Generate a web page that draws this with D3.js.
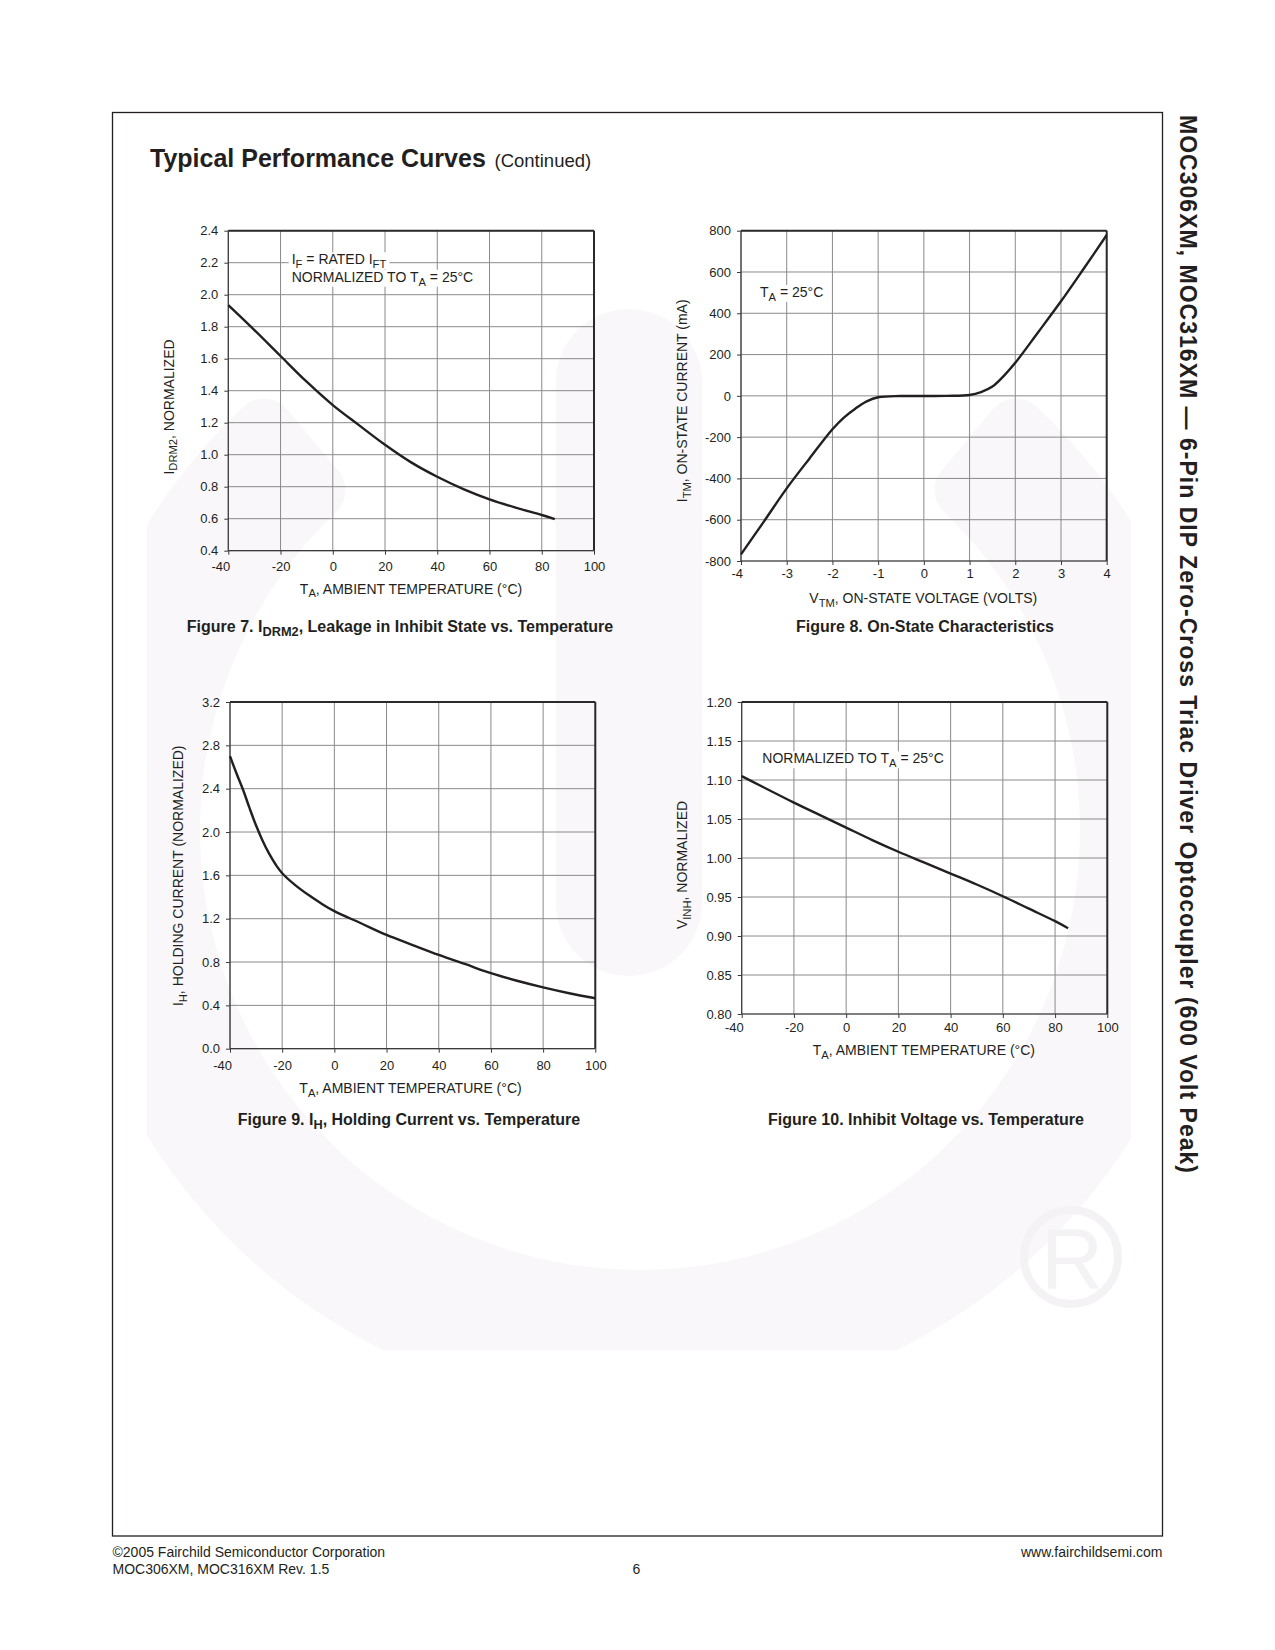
<!DOCTYPE html>
<html><head><meta charset="utf-8">
<script src="https://cdn.jsdelivr.net/npm/d3@7"></script>
<style>
html,body{margin:0;padding:0;background:#fff;}
svg{display:block;font-family:"Liberation Sans",Arial,Helvetica,sans-serif;}
</style></head><body>
<svg id="page" width="1275" height="1650"></svg>
<script>
// ---------------- DATA ----------------
const tempTicks = [-40, -20, 0, 20, 40, 60, 80, 100];

// Figure 7: IDRM2 normalized vs temperature
const fig7Temp = [-40, -30, -20, -10, 0, 10, 20, 30, 40, 50, 60, 70, 80, 85];
const fig7Idrm = [1.935, 1.779, 1.617, 1.456, 1.31, 1.185, 1.062, 0.952, 0.862, 0.785, 0.721, 0.669, 0.623, 0.598];
const fig7YTicks = [0.4, 0.6, 0.8, 1.0, 1.2, 1.4, 1.6, 1.8, 2.0, 2.2, 2.4];

// Figure 8: on-state current vs voltage
const fig8Volt = [-4, -3.5, -3, -2.5, -2, -1.75, -1.5, -1.25, -1, -0.5, 0, 0.5, 1, 1.25, 1.5, 1.75, 2, 2.5, 3, 3.5, 4];
const fig8Current = [-768, -609, -448, -303, -162, -105, -62, -27, -7, -1, -1, 0, 4, 18, 45, 97, 160, 308, 458, 617, 779];
const fig8XTicks = [-4, -3, -2, -1, 0, 1, 2, 3, 4];
const fig8YTicks = [-800, -600, -400, -200, 0, 200, 400, 600, 800];

// Figure 9: holding current vs temperature
const fig9Temp = [-40, -37.5, -35, -32.5, -30, -27.5, -25, -22.5, -20, -15, -10, -5, 0, 10, 20, 30, 40, 50, 60, 70, 80, 90, 100];
const fig9Ih = [2.70, 2.54, 2.39, 2.22, 2.06, 1.92, 1.80, 1.70, 1.62, 1.51, 1.42, 1.34, 1.27, 1.16, 1.05, 0.957, 0.866, 0.782, 0.697, 0.627, 0.566, 0.512, 0.466];
const fig9YTicks = [0.0, 0.4, 0.8, 1.2, 1.6, 2.0, 2.4, 2.8, 3.2];

// Figure 10: inhibit voltage vs temperature
const fig10Temp = [-40, -20, -10, 0, 10, 20, 30, 40, 50, 60, 70, 80, 85];
const fig10Vinh = [1.105, 1.071, 1.055, 1.039, 1.023, 1.008, 0.994, 0.980, 0.966, 0.951, 0.935, 0.919, 0.910];
const fig10YTicks = [0.80, 0.85, 0.90, 0.95, 1.00, 1.05, 1.10, 1.15, 1.20];

// ---------------- LAYOUT ----------------
const TXT = "#231f20";
const svg = d3.select("#page");

// faint watermark (logo) behind page
(function watermark() {
  const defs = svg.append("defs");
  defs.append("clipPath").attr("id", "wmclip").append("rect")
    .attr("x", 147).attr("y", 300).attr("width", 984).attr("height", 1050);
  const wm = svg.append("g").attr("clip-path", "url(#wmclip)");
  const gray = "#f9f7fa";
  const ring = d3.arc().innerRadius(440).outerRadius(580)
    .startAngle(40 * Math.PI / 180).endAngle(320 * Math.PI / 180).cornerRadius(30);
  wm.append("path").attr("d", ring()).attr("transform", "translate(640,830)").attr("fill", gray);
  wm.append("rect").attr("x", 556).attr("y", 309).attr("width", 146).attr("height", 667)
    .attr("rx", 73).attr("fill", gray);
  svg.append("circle").attr("cx", 1071).attr("cy", 1257).attr("r", 47)
    .attr("fill", "none").attr("stroke", "#f4f2f5").attr("stroke-width", 8);
  svg.append("text").attr("x", 1072).attr("y", 1288).attr("text-anchor", "middle")
    .attr("font-size", 86).attr("fill", "#f4f2f5").text("R");
})();

// page frame
svg.append("rect").attr("x", 112.5).attr("y", 112.5).attr("width", 1050).attr("height", 1423.5)
  .attr("fill", "none").attr("stroke", TXT).attr("stroke-width", 1.3);

function rich(textSel, parts, fs) {
  let prevSub = false;
  parts.forEach(p => {
    const t = textSel.append("tspan").text(p.t);
    if (p.sub) { t.attr("font-size", fs * 0.8).attr("dy", fs * 0.28); }
    else if (prevSub) { t.attr("dy", -fs * 0.28); }
    prevSub = !!p.sub;
  });
  return textSel;
}

const charts = [
  { box: [228.3, 230.7, 594, 550.7], xDomain: [-40, 100], yDomain: [0.4, 2.4],
    xTicks: tempTicks, yTicks: fig7YTicks, yFmt: d => d.toFixed(1), xs: fig7Temp, ys: fig7Idrm,
    xLabBase: 20,
    yTitle: [{t: "I"}, {t: "DRM2", sub: true}, {t: ", NORMALIZED"}], yTitlePos: [173.5, 407],
    xTitle: [{t: "T"}, {t: "A", sub: true}, {t: ", AMBIENT TEMPERATURE (°C)"}], xTitlePos: [411, 593.5],
    caption: [{t: "Figure 7. I"}, {t: "DRM2", sub: true}, {t: ", Leakage in Inhibit State vs. Temperature"}], capPos: [400, 632],
    notes: [
      { x: 291.7, y: 264.3, parts: [{t: "I"}, {t: "F", sub: true}, {t: " = RATED I"}, {t: "FT", sub: true}] },
      { x: 291.7, y: 281.7, parts: [{t: "NORMALIZED TO T"}, {t: "A", sub: true}, {t: " = 25°C"}] }
    ] },
  { box: [741, 230.7, 1106.7, 561], xDomain: [-4, 4], yDomain: [-800, 800],
    xTicks: fig8XTicks, yTicks: fig8YTicks, yFmt: d => String(d), xs: fig8Volt, ys: fig8Current,
    xLabBase: 17,
    yTitle: [{t: "I"}, {t: "TM", sub: true}, {t: ", ON-STATE CURRENT (mA)"}], yTitlePos: [687.3, 400.8],
    xTitle: [{t: "V"}, {t: "TM", sub: true}, {t: ", ON-STATE VOLTAGE (VOLTS)"}], xTitlePos: [923.3, 603.3],
    caption: [{t: "Figure 8. On-State Characteristics"}], capPos: [925, 632],
    notes: [ { x: 760, y: 297, parts: [{t: "T"}, {t: "A", sub: true}, {t: " = 25°C"}] } ] },
  { box: [230, 702, 595.3, 1048.7], xDomain: [-40, 100], yDomain: [0, 3.2],
    xTicks: tempTicks, yTicks: fig9YTicks, yFmt: d => d.toFixed(1), xs: fig9Temp, ys: fig9Ih,
    xLabBase: 21,
    yTitle: [{t: "I"}, {t: "H", sub: true}, {t: ",  HOLDING CURRENT (NORMALIZED)"}], yTitlePos: [182.7, 875.8],
    xTitle: [{t: "T"}, {t: "A", sub: true}, {t: ", AMBIENT TEMPERATURE (°C)"}], xTitlePos: [410.5, 1092.7],
    caption: [{t: "Figure 9. I"}, {t: "H", sub: true}, {t: ", Holding Current vs. Temperature"}], capPos: [409, 1125],
    notes: [] },
  { box: [741.7, 702, 1107.3, 1014], xDomain: [-40, 100], yDomain: [0.8, 1.2],
    xTicks: tempTicks, yTicks: fig10YTicks, yFmt: d => d.toFixed(2), xs: fig10Temp, ys: fig10Vinh,
    xLabBase: 18,
    yTitle: [{t: "V"}, {t: "INH", sub: true}, {t: ", NORMALIZED"}], yTitlePos: [686.7, 865],
    xTitle: [{t: "T"}, {t: "A", sub: true}, {t: ", AMBIENT TEMPERATURE (°C)"}], xTitlePos: [923.8, 1055],
    caption: [{t: "Figure 10. Inhibit Voltage vs. Temperature"}], capPos: [926, 1125],
    notes: [ { x: 762.3, y: 763.3, parts: [{t: "NORMALIZED TO T"}, {t: "A", sub: true}, {t: " = 25°C"}] } ] }
];

charts.forEach(cfg => {
  const [x0, y0, x1, y1] = cfg.box;
  const x = d3.scaleLinear().domain(cfg.xDomain).range([x0, x1]);
  const y = d3.scaleLinear().domain(cfg.yDomain).range([y1, y0]);
  const g = svg.append("g");

  // grid
  g.append("g").selectAll("line").data(cfg.xTicks).join("line")
    .attr("x1", d => x(d)).attr("x2", d => x(d)).attr("y1", y0).attr("y2", y1)
    .attr("stroke", "#8a8a8a").attr("stroke-width", 1);
  g.append("g").selectAll("line").data(cfg.yTicks).join("line")
    .attr("y1", d => y(d)).attr("y2", d => y(d)).attr("x1", x0).attr("x2", x1)
    .attr("stroke", "#8a8a8a").attr("stroke-width", 1);

  // annotations with white knock-out
  cfg.notes.forEach(n => {
    const bg = g.append("rect").attr("fill", "#fff");
    const t = g.append("text").attr("x", n.x).attr("y", n.y).attr("font-size", 14).attr("fill", TXT);
    rich(t, n.parts, 14);
    const bb = t.node().getBBox();
    bg.attr("x", bb.x - 3).attr("y", bb.y + 1).attr("width", bb.width + 6).attr("height", bb.height - 2);
  });

  // frame
  g.append("line").attr("x1", x0).attr("x2", x1).attr("y1", y0).attr("y2", y0).attr("stroke", "#2a2a2a").attr("stroke-width", 2);
  g.append("line").attr("x1", x1).attr("x2", x1).attr("y1", y0).attr("y2", y1).attr("stroke", "#2a2a2a").attr("stroke-width", 2);
  g.append("line").attr("x1", x0).attr("x2", x0).attr("y1", y0).attr("y2", y1).attr("stroke", "#3a3a3a").attr("stroke-width", 1.2);
  g.append("line").attr("x1", x0).attr("x2", x1).attr("y1", y1).attr("y2", y1).attr("stroke", "#3a3a3a").attr("stroke-width", 1.2);

  // axes
  const padX = cfg.xLabBase - 4 - 0.71 * 13;
  const xa = g.append("g").attr("transform", `translate(0,${y1})`)
    .call(d3.axisBottom(x).tickValues(cfg.xTicks).tickFormat(d => String(d)).tickSize(4).tickPadding(padX));
  const ya = g.append("g").attr("transform", `translate(${x0},0)`)
    .call(d3.axisLeft(y).tickValues(cfg.yTicks).tickFormat(cfg.yFmt).tickSize(4).tickPadding(6));
  [xa, ya].forEach(a => {
    a.select(".domain").remove();
    a.selectAll(".tick line").attr("stroke", "#3a3a3a").attr("stroke-width", 1);
    a.selectAll("text").attr("font-size", 13).attr("fill", TXT)
      .attr("font-family", '"Liberation Sans",Arial,Helvetica,sans-serif');
  });
  xa.selectAll(".tick").filter((d, i) => i === 0).select("text")
    .attr("text-anchor", "end").attr("x", 1.5);

  // curve
  const pts = cfg.xs.map((v, i) => [v, cfg.ys[i]]);
  g.append("path").datum(pts)
    .attr("d", d3.line().x(d => x(d[0])).y(d => y(d[1])).curve(d3.curveCatmullRom.alpha(0.5)))
    .attr("fill", "none").attr("stroke", "#231f20").attr("stroke-width", 2.4).attr("stroke-linecap", "butt");

  // axis titles
  const yt = g.append("text").attr("transform", `translate(${cfg.yTitlePos[0]},${cfg.yTitlePos[1]}) rotate(-90)`)
    .attr("text-anchor", "middle").attr("font-size", 14).attr("fill", TXT);
  rich(yt, cfg.yTitle, 14);
  const xt = g.append("text").attr("x", cfg.xTitlePos[0]).attr("y", cfg.xTitlePos[1])
    .attr("text-anchor", "middle").attr("font-size", 14).attr("fill", TXT);
  rich(xt, cfg.xTitle, 14);
  const cap = g.append("text").attr("x", cfg.capPos[0]).attr("y", cfg.capPos[1])
    .attr("text-anchor", "middle").attr("font-size", 16).attr("font-weight", "bold").attr("fill", TXT);
  rich(cap, cfg.caption, 16);
});

// titles
svg.append("text").attr("x", 150).attr("y", 167).attr("font-size", 25).attr("font-weight", "bold")
  .attr("fill", TXT).text("Typical Performance Curves");
svg.append("text").attr("x", 494.5).attr("y", 167).attr("font-size", 18.5)
  .attr("fill", TXT).text("(Continued)");
svg.append("text").attr("transform", "translate(1180,115) rotate(90)")
  .attr("font-size", 23).attr("font-weight", "bold").attr("fill", TXT)
  .attr("textLength", 1058).attr("lengthAdjust", "spacing")
  .text("MOC306XM, MOC316XM — 6-Pin DIP Zero-Cross Triac Driver Optocoupler (600 Volt Peak)");

// footer
svg.append("text").attr("x", 112.5).attr("y", 1557).attr("font-size", 14).attr("fill", TXT)
  .text("©2005 Fairchild Semiconductor Corporation");
svg.append("text").attr("x", 112.5).attr("y", 1574).attr("font-size", 14).attr("fill", TXT)
  .text("MOC306XM, MOC316XM Rev. 1.5");
svg.append("text").attr("x", 636.5).attr("y", 1574).attr("font-size", 14).attr("fill", TXT)
  .attr("text-anchor", "middle").text("6");
svg.append("text").attr("x", 1162.5).attr("y", 1557).attr("font-size", 14).attr("fill", TXT)
  .attr("text-anchor", "end").text("www.fairchildsemi.com");
</script>
</body></html>
